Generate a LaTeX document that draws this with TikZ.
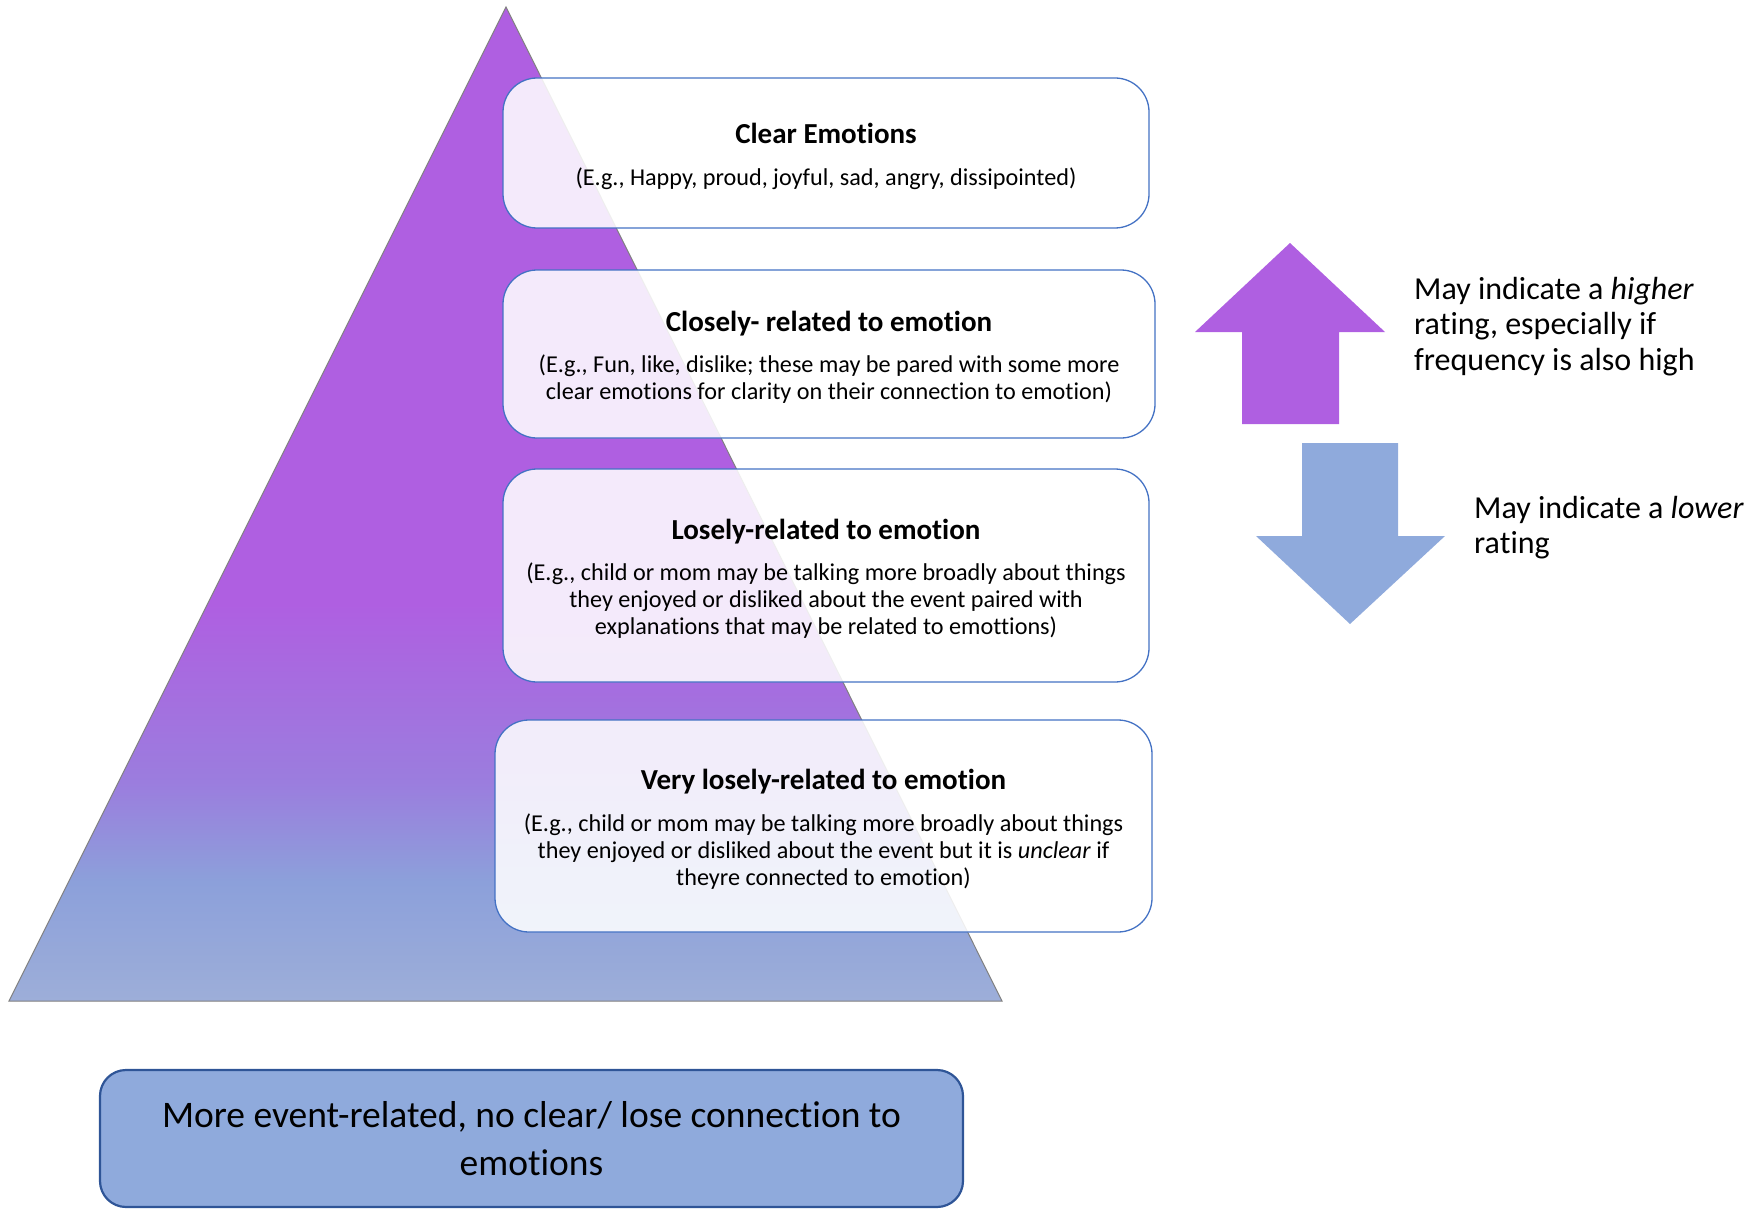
\documentclass[tikz,border=0pt]{standalone}
\usepackage{fontspec}
\setmainfont{Carlito}[Ligatures=NoCommon]
\definecolor{purp}{RGB}{175,95,225}
\definecolor{bluA}{RGB}{143,170,220}
\definecolor{pyrbot}{RGB}{157,174,217}
\definecolor{pyrmidA}{RGB}{140,160,218}
\definecolor{pyrmidB}{RGB}{155,125,222}
\definecolor{boxline}{RGB}{68,114,196}
\definecolor{darkline}{RGB}{47,85,151}
\newcommand\ttlfnt{\fontsize{29}{27}\selectfont\bfseries\rule{0pt}{27pt}}
\pgfdeclareverticalshading{pyr}{100bp}{color(0bp)=(pyrbot); color(25bp)=(pyrbot); color(31bp)=(pyrmidA); color(36bp)=(pyrmidB); color(45bp)=(purp); color(100bp)=(purp)}
\begin{document}
\begin{tikzpicture}[x=1pt,y=-1pt,
  ebox/.style={draw=boxline, line width=1.3pt, fill=white, fill opacity=0.87, text opacity=1,
    rounded corners=34pt, inner sep=0pt, align=center, font=\fontsize{24.2}{27}\selectfont},
  side/.style={anchor=west, align=left, inner sep=0pt, font=\fontsize{32}{35.5}\selectfont},
  basebox/.style={draw=darkline, line width=2.2pt, fill=bluA, rounded corners=26pt,
    align=center, inner sep=0pt, font=\fontsize{37.5}{48}\selectfont}]
\useasboundingbox (0,0) rectangle (1764,1209);
\clip (0,0) rectangle (1764,1209);
% pyramid
\coordinate (apex) at (506,7);
\coordinate (bl) at (9,1001);
\coordinate (br) at (1002,1001);
\path[shade, shading=pyr, draw=gray, line width=1pt] (apex) -- (bl) -- (br) -- cycle;
% boxes
\node[ebox, minimum width=646, minimum height=150] (b1) at (826,153)
  {{\ttlfnt Clear Emotions}\\[14.5pt]
   (E.g., Happy, proud, joyful, sad, angry, dissipointed)};
\node[ebox, minimum width=652, minimum height=168] (b2) at (829,354)
  {{\ttlfnt Closely- related to emotion}\\[14.5pt]
   (E.g., Fun, like, dislike; these may be pared with some more\\
   clear emotions for clarity on their connection to emotion)};
\node[ebox, minimum width=646, minimum height=213] (b3) at (826,575.5)
  {{\ttlfnt Losely-related to emotion}\\[14.5pt]
   (E.g., child or mom may be talking more broadly about things\\
   they enjoyed or disliked about the event paired with\\
   explanations that may be related to emottions)};
\node[ebox, minimum width=657, minimum height=212] (b4) at (823.5,826)
  {{\ttlfnt Very losely-related to emotion}\\[14.5pt]
   (E.g., child or mom may be talking more broadly about things\\
   they enjoyed or disliked about the event but it is \textit{unclear} if\\
   theyre connected to emotion)};
% base box
\node[basebox, minimum width=863, minimum height=137] (base) at (531.5,1138.5)
  {More event-related, no clear/ lose connection to\\ emotions};
% arrows
\fill[purp] (1242,424) -- (1242,332) -- (1195,332) -- (1290,243) -- (1385,332) -- (1339,332) -- (1339,424) -- cycle;
\fill[bluA] (1302,443) -- (1398,443) -- (1398,536) -- (1445,536) -- (1350,624) -- (1256,536) -- (1302,536) -- cycle;
% side texts
\node[side] (hi) at (1414,326.5) {May indicate a \textit{higher}\\ rating, especially if\\ frequency is also high};
\node[side] (lo) at (1474,527.5) {May indicate a \textit{lower}\\ rating};
\end{tikzpicture}
\end{document}
